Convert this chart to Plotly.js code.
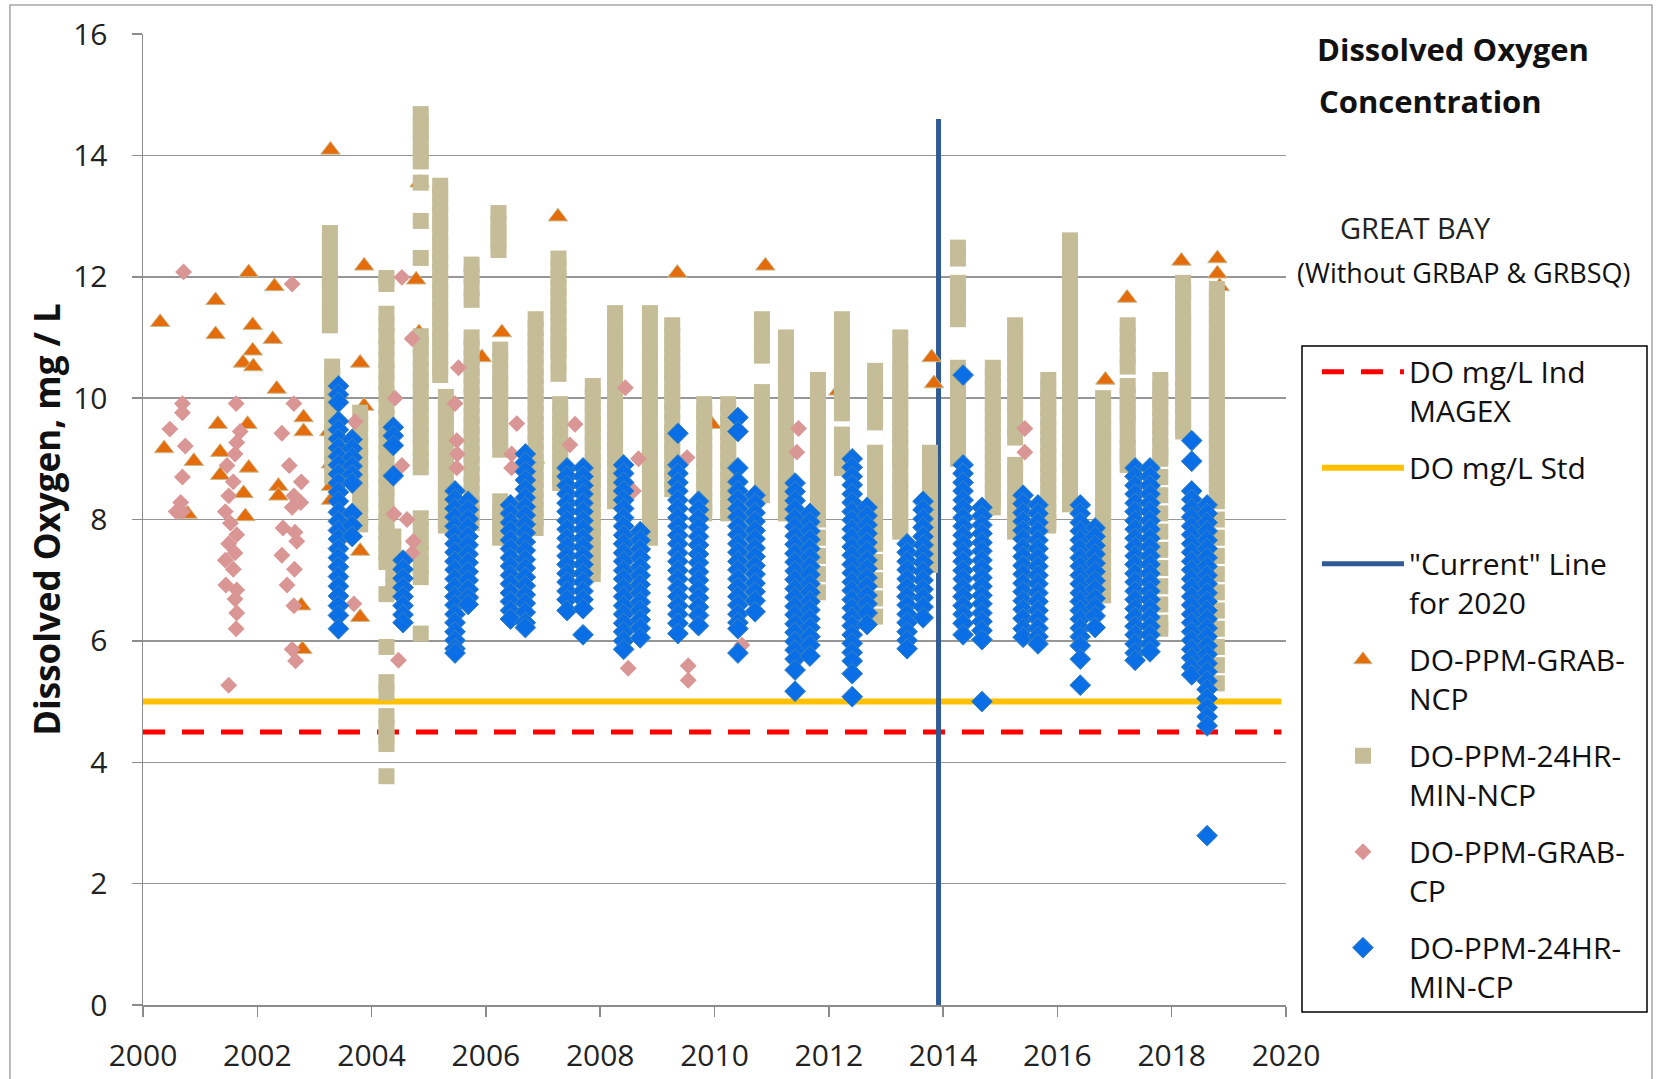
<!DOCTYPE html>
<html><head><meta charset="utf-8">
<script src="https://cdn.plot.ly/plotly-3.0.1.min.js"></script>
<style>html,body{margin:0;padding:0;background:#fff}#chart{width:1657px;height:1079px}</style>
</head><body><div id="chart"></div>
<script>
// Reference lines
const magex_x = [2000, 2019.92];
const magex_y = [4.5, 4.5];
const std_x = [2000, 2019.92];
const std_y = [5, 5];
const current_x = [2013.92, 2013.92];
const current_y = [0, 14.6];

// DO-PPM-GRAB-NCP (triangles)
const grab_ncp_x = [2000.30,2000.37,2000.89,2000.78,2001.27,2001.27,2001.31,2001.35,2001.35,2001.85,
 2001.92,2001.92,2001.75,2001.93,2001.83,2001.85,2001.76,2001.79,2002.30,2002.27,
 2002.34,2002.37,2002.37,2002.81,2002.81,2002.77,2002.79,2003.28,2003.87,2003.80,
 2003.87,2003.29,2003.29,2003.29,2003.26,2003.80,2003.80,2004.78,2004.83,2004.84,
 2005.93,2006.28,2006.86,2007.26,2009.35,2009.95,2010.89,2012.17,2013.80,2013.84,
 2016.84,2017.22,2018.17,2018.80,2018.80,2018.84];
const grab_ncp_y = [11.25,9.17,8.96,8.09,11.61,11.05,9.57,9.11,8.73,12.07,
 11.2,10.78,10.58,10.52,9.57,8.85,8.43,8.05,11.84,10.97,
 10.15,8.55,8.39,9.68,9.45,6.58,5.86,14.09,12.18,10.58,
 9.87,8.92,8.55,8.32,9.45,7.48,6.39,11.95,11.08,13.55,
 10.67,11.08,9.0,12.99,12.06,9.57,12.18,10.12,10.67,10.24,
 10.3,11.65,12.26,12.3,12.05,11.84];

// DO-PPM-GRAB-CP (pink diamonds)
const grab_cp_x = [2000.71,2000.69,2000.69,2000.47,2000.74,2000.69,2000.66,2000.58,2000.69,
 2001.63,2001.70,2001.64,2001.61,2001.47,2001.58,2001.50,2001.44,2001.53,2001.64,2001.50,2001.61,2001.44,2001.58,2001.45,2001.64,2001.61,2001.64,2001.63,2001.50,
 2002.61,2002.64,2002.43,2002.56,2002.77,2002.64,2002.76,2002.61,2002.45,2002.66,2002.69,2002.43,2002.65,2002.52,2002.64,2002.61,2002.67,
 2003.71,2003.39,2003.44,2003.44,2003.69,
 2004.53,2004.41,2004.71,2004.53,2004.39,2004.62,2004.73,2004.71,2004.47,
 2005.52,2005.46,2005.49,2005.50,2005.49,2005.73,
 2006.54,2006.45,2006.45,2007.56,2007.47,
 2008.44,2008.67,2008.58,2008.49,2009.52,2009.54,2009.54,
 2010.48,2011.47,2011.44,2015.43,2015.43];
const grab_cp_y = [12.08,9.91,9.76,9.49,9.21,8.70,8.28,8.13,8.13,
 9.91,9.45,9.27,9.08,8.89,8.62,8.39,8.13,7.94,7.75,7.60,7.45,7.33,7.18,6.92,6.84,6.69,6.46,6.20,5.27,
 11.88,9.91,9.42,8.89,8.62,8.39,8.28,8.20,7.86,7.79,7.64,7.41,7.18,6.92,6.58,5.86,5.67,
 9.61,8.47,7.64,7.03,6.61,
 11.99,10.0,10.98,8.89,8.09,8.0,7.64,7.45,5.68,
 10.5,9.91,9.30,9.08,8.85,6.73,
 9.58,9.08,8.85,9.57,9.23,
 10.17,9.0,8.47,5.55,9.02,5.59,5.35,
 5.93,9.5,9.11,9.5,9.11];

// DO-PPM-24HR-MIN-NCP (tan squares): [sample date, daily minimum values]
const ncp24_cols = [
 [2003.27,[12.72,12.58,12.41,12.27,12.1,11.96,11.82,11.63,11.49,11.34,11.2]],
 [2003.31,[10.52,10.36,10.21,10.03,9.88,9.74,9.58,9.44,9.27,9.1,8.92,8.71]],
 [2003.80,[9.76,9.58,9.41,9.22,9.04,8.83,8.62,8.45,8.24,8.06,7.92]],
 [2004.26,[11.98,11.88,11.39,11.21,11.02,10.84,10.63,10.45,10.26,10.07,9.86,9.68,9.49,9.28,9.1,8.92,8.71,8.53,8.34,8.12,7.95,7.78,7.6,7.44,7.3,6.77,5.9,5.32,5.15,4.76,4.58,4.42,4.3,3.77]],
 [2004.38,[7.72,7.51,7.33,7.12,6.91]],
 [2004.86,[14.68,14.52,14.38,14.22,14.05,13.9,13.55,12.92,12.31,11.02,10.85,10.66,10.47,10.28,10.1,9.91,9.72,9.55,9.37,9.18,9.0,8.86,8.02,7.84,7.62,7.43,7.24,7.05,6.12]],
 [2005.20,[13.5,13.36,13.19,13.03,12.87,12.72,12.56,12.4,12.25,12.08,11.92,11.77,11.61,11.45,11.3,11.13,10.98,10.82,10.66,10.51,10.38]],
 [2005.30,[10.02,9.86,9.7,9.53,9.38,9.22,9.05,8.9,8.74,8.57,8.4,8.22,8.05,7.9]],
 [2005.75,[12.2,12.03,11.82,11.62,11.0,10.84,10.67,10.51,10.36,10.2,10.04,9.88,9.71,9.55,9.4,9.23,9.07,8.92,8.75,8.58,8.42,8.26,8.1,7.94]],
 [2006.22,[13.05,12.88,12.73,12.58,12.44]],
 [2006.25,[10.8,10.62,10.41,10.24,10.08,9.93,9.77,9.61,9.46,9.3,9.15,8.3,8.14,7.98,7.83,7.7]],
 [2006.87,[11.3,11.14,10.98,10.83,10.67,10.52,10.36,10.2,10.05,9.9,9.74,9.58,9.43,9.27,9.12,8.96,8.8,8.65,8.49,8.33,8.18,8.02,7.86]],
 [2007.27,[12.3,12.14,11.98,11.82,11.67,11.51,11.36,11.2,11.04,10.89,10.78,10.6,10.4]],
 [2007.30,[9.9,9.74,9.58,9.43,9.27,9.12,8.96,8.8,8.68,8.6]],
 [2007.87,[10.2,10.04,9.89,9.73,9.58,9.42,9.27,9.11,8.95,8.8,8.64,8.49,8.33,8.18,8.02,7.86,7.71,7.55,7.4,7.25,7.1]],
 [2008.26,[11.4,11.24,11.08,10.93,10.77,10.62,10.46,10.3,10.2,10.08,9.93,9.77,9.62,9.46,9.3,9.15,8.99,8.84,8.68,8.52,8.38,8.3]],
 [2008.87,[11.4,11.24,11.08,10.93,10.77,10.6,10.45,10.3,10.15,9.99,9.84,9.68,9.52,9.37,9.21,9.06,8.9,8.74,8.59,8.43,8.28,8.12,7.97,7.81,7.7]],
 [2009.26,[11.2,11.04,10.88,10.73,10.57,10.42,10.26,10.1,9.95,9.78,9.6,9.44,9.29,9.13,8.98,8.82,8.66,8.5]],
 [2009.82,[9.9,9.74,9.59,9.43,9.28,9.12,8.97,8.81,8.65,8.5,8.34,8.19,8.1]],
 [2010.24,[9.9,9.74,9.59,9.43,9.28,9.12,8.97,8.81,8.65,8.5,8.34,8.19,8.1]],
 [2010.83,[11.3,11.14,10.98,10.83,10.7,10.1,9.95,9.79,9.63,9.48,9.32,9.17,9.01,8.86,8.7,8.55,8.4]],
 [2011.25,[11.0,10.84,10.69,10.53,10.38,10.22,10.06,9.9,9.75,9.6,9.44,9.29,9.13,8.98,8.82,8.67,8.51,8.36,8.2,8.1]],
 [2011.81,[10.3,10.14,9.99,9.83,9.68,9.52,9.37,9.21,9.06,8.9,8.75,8.59,8.44,8.28,8.13,8.0,7.7,7.4,7.1,6.8]],
 [2012.23,[11.3,11.14,10.98,10.83,10.7,10.58,10.45,10.3,10.25,10.0,9.85,9.75,9.4,9.24,9.09,8.94,8.85]],
 [2012.81,[10.45,10.29,10.13,9.98,9.82,9.67,9.6,9.1,8.94,8.79,8.63,8.47,8.32,8.16,8.01,7.85,7.7,7.6,7.3,7.0,6.7,6.4]],
 [2013.25,[11.0,10.82,10.6,10.44,10.29,10.13,9.98,9.82,9.67,9.51,9.36,9.2,9.05,8.98,8.8,8.64,8.49,8.33,8.18,8.02,7.87,7.8]],
 [2013.77,[9.1,8.94,8.8,8.7,8.54,8.39,8.23,8.08,7.92,7.77,7.61,7.46,7.3,7.25]],
 [2014.26,[12.48,12.3,11.9,11.7,11.5,11.3,10.5,10.34,10.19,10.03,9.88,9.72,9.57,9.41,9.26,9.1,9.0]],
 [2014.87,[10.5,10.34,10.19,10.03,9.88,9.72,9.57,9.41,9.26,9.1,8.95,8.79,8.64,8.48,8.33,8.2]],
 [2015.26,[11.2,11.04,10.88,10.73,10.57,10.4,10.2,10.04,9.89,9.75,9.5,9.35,8.9,8.75,8.5,8.34,8.19,8.03,7.88,7.8]],
 [2015.84,[10.3,10.14,9.99,9.83,9.68,9.52,9.37,9.21,9.06,8.9,8.75,8.59,8.44,8.28,8.13,7.97,7.9]],
 [2016.22,[12.6,12.44,12.3,12.2,12.04,11.89,11.73,11.58,11.42,11.27,11.11,10.96,10.8,10.75,10.6,10.44,10.29,10.13,9.98,9.82,9.75,9.7,9.54,9.39,9.23,9.08,8.92,8.77,8.61,8.46,8.3,8.25]],
 [2016.80,[10.0,9.84,9.69,9.53,9.38,9.3,9.15,8.99,8.84,8.68,8.53,8.37,8.22,8.06,7.95,7.78,7.58,7.38,7.18,6.98,6.75]],
 [2017.23,[11.2,11.04,10.9,10.7,10.52,10.2,10.04,9.89,9.73,9.6,9.35,9.19,9.04,8.9]],
 [2017.80,[10.3,10.14,9.99,9.83,9.68,9.52,9.37,9.21,9.06,9.0,8.7,8.4,8.1,7.8,7.5,7.2,6.9,6.6,6.3,6.2]],
 [2018.20,[11.9,11.74,11.6,11.4,11.24,11.09,10.93,10.78,10.62,10.47,10.31,10.16,10.0,9.85,9.69,9.54,9.45]],
 [2018.79,[11.8,11.64,11.49,11.33,11.18,11.02,10.87,10.75,10.6,10.44,10.29,10.13,9.98,9.82,9.67,9.51,9.36,9.2,9.05,8.89,8.74,8.58,8.43,8.3,8.0,7.7,7.4,7.1,6.8,6.5,6.2,5.9,5.6,5.3]]
];

// DO-PPM-24HR-MIN-CP (blue diamonds): [sample date, daily minimum values]
const cp24_cols = [
 [2003.42,[10.2,10.06,9.93,9.62,9.48,9.33,9.18,9.04,8.9,8.75,8.6,8.45,8.3,8.12,7.97,7.82,7.68,7.52,7.37,7.22,7.06,6.9,6.74,6.58,6.42,6.2]],
 [2003.66,[9.32,9.17,9.02,8.88,8.74,8.6,8.1,7.9,7.72]],
 [2004.38,[9.52,9.38,9.22,8.72]],
 [2004.55,[7.33,7.18,7.03,6.88,6.73,6.58,6.43,6.3]],
 [2005.46,[8.47,8.33,8.18,8.04,7.89,7.75,7.6,7.46,7.31,7.17,7.02,6.88,6.73,6.59,6.44,6.3,6.15,6.01,5.87,5.8]],
 [2005.69,[8.3,8.16,8.01,7.87,7.72,7.58,7.43,7.29,7.14,7.0,6.85,6.71,6.6]],
 [2006.43,[8.24,8.1,7.95,7.81,7.66,7.52,7.37,7.23,7.08,6.94,6.79,6.65,6.5,6.36]],
 [2006.69,[9.08,8.94,8.79,8.65,8.5,8.36,8.21,8.07,7.92,7.78,7.63,7.49,7.34,7.2,7.05,6.91,6.76,6.62,6.47,6.3,6.22]],
 [2007.42,[8.85,8.71,8.56,8.42,8.27,8.13,7.98,7.84,7.69,7.55,7.4,7.26,7.11,6.97,6.82,6.68,6.5]],
 [2007.70,[8.85,8.71,8.56,8.42,8.27,8.13,7.98,7.84,7.69,7.55,7.4,7.26,7.11,6.97,6.82,6.68,6.53,6.1]],
 [2008.41,[8.9,8.76,8.61,8.47,8.32,8.18,8.03,7.89,7.74,7.6,7.45,7.31,7.16,7.02,6.87,6.73,6.58,6.44,6.29,6.15,6.0,5.86]],
 [2008.70,[7.8,7.66,7.51,7.37,7.22,7.08,6.93,6.79,6.64,6.5,6.35,6.21,6.05]],
 [2009.36,[9.42,8.9,8.76,8.61,8.47,8.32,8.18,8.03,7.89,7.74,7.6,7.45,7.31,7.16,7.02,6.87,6.73,6.58,6.44,6.29,6.12]],
 [2009.72,[8.3,8.16,8.01,7.87,7.72,7.58,7.43,7.29,7.14,7.0,6.85,6.71,6.56,6.42,6.25]],
 [2010.41,[9.68,9.45,8.85,8.62,8.47,8.33,8.18,8.04,7.89,7.75,7.6,7.46,7.31,7.17,7.02,6.88,6.73,6.59,6.44,6.3,6.2,5.8]],
 [2010.71,[8.4,8.26,8.11,7.97,7.82,7.68,7.53,7.39,7.24,7.1,6.95,6.81,6.66,6.48]],
 [2011.41,[8.6,8.46,8.31,8.17,8.02,7.88,7.73,7.59,7.44,7.3,7.15,7.01,6.86,6.72,6.57,6.43,6.28,6.14,5.99,5.85,5.7,5.52,5.17]],
 [2011.67,[8.1,7.96,7.81,7.67,7.52,7.38,7.23,7.09,6.94,6.8,6.65,6.51,6.36,6.22,6.07,5.93,5.75]],
 [2012.41,[9.0,8.86,8.71,8.57,8.42,8.28,8.13,7.99,7.84,7.7,7.55,7.41,7.26,7.12,6.97,6.83,6.68,6.54,6.39,6.25,6.1,5.96,5.81,5.67,5.46,5.08]],
 [2012.67,[8.2,8.06,7.91,7.77,7.62,7.48,7.33,7.19,7.04,6.9,6.75,6.61,6.46,6.27]],
 [2013.37,[7.6,7.46,7.31,7.17,7.02,6.88,6.73,6.59,6.44,6.3,6.15,6.01,5.87]],
 [2013.65,[8.3,8.16,8.01,7.87,7.72,7.58,7.43,7.29,7.14,7.0,6.85,6.71,6.56,6.38]],
 [2014.35,[10.38,8.9,8.76,8.61,8.47,8.32,8.18,8.03,7.89,7.74,7.6,7.45,7.31,7.16,7.02,6.87,6.73,6.58,6.44,6.29,6.1]],
 [2014.68,[8.2,8.06,7.91,7.77,7.62,7.48,7.33,7.19,7.04,6.9,6.75,6.61,6.46,6.32,6.17,6.02,5.0]],
 [2015.40,[8.4,8.26,8.11,7.97,7.82,7.68,7.53,7.39,7.24,7.1,6.95,6.81,6.66,6.52,6.37,6.2,6.06]],
 [2015.66,[8.24,8.1,7.95,7.81,7.66,7.52,7.37,7.23,7.08,6.94,6.79,6.65,6.5,6.36,6.21,6.07,5.95]],
 [2016.40,[8.24,8.1,7.95,7.81,7.66,7.52,7.37,7.23,7.08,6.94,6.79,6.65,6.5,6.36,6.21,6.07,5.92,5.7,5.27]],
 [2016.66,[7.86,7.72,7.57,7.43,7.28,7.14,6.99,6.85,6.7,6.56,6.41,6.22]],
 [2017.36,[8.85,8.71,8.56,8.42,8.27,8.13,7.98,7.84,7.69,7.55,7.4,7.26,7.11,6.97,6.82,6.68,6.53,6.39,6.24,6.1,5.95,5.8,5.68]],
 [2017.62,[8.85,8.71,8.56,8.42,8.27,8.13,7.98,7.84,7.69,7.55,7.4,7.26,7.11,6.97,6.82,6.68,6.53,6.39,6.24,6.1,5.95,5.82]],
 [2018.35,[9.3,8.96,8.47,8.33,8.18,8.04,7.89,7.75,7.6,7.46,7.31,7.17,7.02,6.88,6.73,6.59,6.44,6.3,6.15,6.01,5.86,5.72,5.57,5.44]],
 [2018.62,[8.24,8.1,7.95,7.81,7.66,7.52,7.37,7.23,7.08,6.94,6.79,6.65,6.5,6.36,6.21,6.07,5.92,5.78,5.63,5.49,5.34,5.2,5.05,4.9,4.75,4.6,2.79]]
];

const xTicks = [2000,2002,2004,2006,2008,2010,2012,2014,2016,2018,2020];
const yTicks = [0,2,4,6,8,10,12,14,16];

function flatten(cols){
  const x = [], y = [];
  cols.forEach(c => c[1].forEach(v => { x.push(c[0]); y.push(v); }));
  return {x, y};
}
const ncp24 = flatten(ncp24_cols);
const cp24 = flatten(cp24_cols);

const FONT = 'Open Sans, Noto Sans, sans-serif';

const traces = [
  {x: magex_x, y: magex_y, mode: 'lines', name: 'DO mg/L Ind<br>MAGEX', legendgroup: 'a',
   line: {color: '#FF0000', width: 5, dash: '22px,17px'}},
  {x: std_x, y: std_y, mode: 'lines', name: 'DO mg/L Std<br>\u00a0', legendgroup: 'b',
   line: {color: '#FFC000', width: 6}},
  {x: current_x, y: current_y, mode: 'lines', name: '"Current" Line<br>for 2020', legendgroup: 'c',
   line: {color: '#2F5A93', width: 5}},
  {x: grab_ncp_x, y: grab_ncp_y, mode: 'markers', name: 'DO-PPM-GRAB-<br>NCP', legendgroup: 'd',
   marker: {symbol: 'triangle-up', size: 17, color: '#E46C0A', line: {color: '#C9BC92', width: 1}}},
  {x: ncp24.x, y: ncp24.y, mode: 'markers', name: 'DO-PPM-24HR-<br>MIN-NCP', legendgroup: 'e',
   marker: {symbol: 'square', size: 16, color: '#C4BD97'}},
  {x: grab_cp_x, y: grab_cp_y, mode: 'markers', name: 'DO-PPM-GRAB-<br>CP', legendgroup: 'f',
   marker: {symbol: 'diamond', size: 13, color: '#D99694'}},
  {x: cp24.x, y: cp24.y, mode: 'markers', name: 'DO-PPM-24HR-<br>MIN-CP', legendgroup: 'g',
   marker: {symbol: 'diamond', size: 16, color: '#0A6FE6', line: {color: '#3D84B4', width: 1}}}
];

const W = 1657, H = 1079;
const layout = {
  width: W, height: H,
  margin: {l: 143, r: 371, t: 34, b: 74},
  paper_bgcolor: '#ffffff', plot_bgcolor: '#ffffff',
  font: {family: FONT, color: '#1a1a1a'},
  showlegend: true,
  title: {text: '<b>Dissolved Oxygen</b>', xref: 'container', yref: 'container',
          x: 1317 / W, xanchor: 'left', y: 1 - 50 / H, yanchor: 'middle',
          font: {family: FONT, size: 31, color: '#111'}},
  xaxis: {range: [2000, 2020], tickvals: xTicks, ticktext: xTicks.map(String),
          showgrid: false, zeroline: false, showline: true, linecolor: '#8c8c8c', linewidth: 1.5,
          ticks: 'outside', ticklen: 10, tickcolor: '#8c8c8c', tickwidth: 1.5,
          ticklabelstandoff: 13,
          tickfont: {family: FONT, size: 30, color: '#222'}},
  yaxis: {range: [0, 16], tickvals: yTicks,
          showgrid: true, gridcolor: '#969696', gridwidth: 1.5, zeroline: false,
          showline: true, linecolor: '#8c8c8c', linewidth: 1.5,
          ticks: 'outside', ticklen: 10, tickcolor: '#8c8c8c', tickwidth: 1.5,
          ticklabelstandoff: 18,
          tickfont: {family: FONT, size: 30, color: '#222'},
          title: {text: '<b>Dissolved Oxygen, mg / L</b>', standoff: 2,
                  font: {family: FONT, size: 35, color: '#111'}}},
  legend: {x: 1.0271, xanchor: 'left', y: 0.679, yanchor: 'top',
           bgcolor: 'rgba(255,255,255,0)', borderwidth: 0,
           font: {family: FONT, size: 30, color: '#111'},
           valign: 'top', itemwidth: 82, tracegroupgap: 15, traceorder: 'grouped'},
  annotations: [
    {text: '<b>Concentration</b>', xref: 'paper', yref: 'paper', x: 1.0271, y: (1005 - 101) / 971,
     xanchor: 'left', yanchor: 'middle', showarrow: false,
     font: {family: FONT, size: 31, color: '#111'}},
    {text: 'GREAT BAY', xref: 'paper', yref: 'paper', x: 1.1135, y: 0.801,
     xanchor: 'center', yanchor: 'middle', showarrow: false,
     font: {family: FONT, size: 29, color: '#222'}},
    {text: '(Without GRBAP &amp; GRBSQ)', xref: 'paper', yref: 'paper', x: 1.1557, y: 0.7539,
     xanchor: 'center', yanchor: 'middle', showarrow: false,
     font: {family: FONT, size: 27, color: '#111'}}
  ],
  shapes: [
    {type: 'rect', xref: 'paper', yref: 'paper', x0: -0.1164, x1: 1.3202, y0: -0.085, y1: 1.0299,
     line: {color: '#a6a6a6', width: 1.5}, fillcolor: 'rgba(0,0,0,0)', layer: 'below'},
    {type: 'rect', xref: 'paper', yref: 'paper', x0: (1302 - 143) / 1143, x1: (1647 - 143) / 1143,
     y0: (1005 - 1012) / 971, y1: (1005 - 346) / 971,
     line: {color: '#000000', width: 1.5}, fillcolor: 'rgba(0,0,0,0)', layer: 'above'}
  ]
};

Plotly.newPlot('chart', traces, layout, {displayModeBar: false, staticPlot: true});
</script>
</body></html>
